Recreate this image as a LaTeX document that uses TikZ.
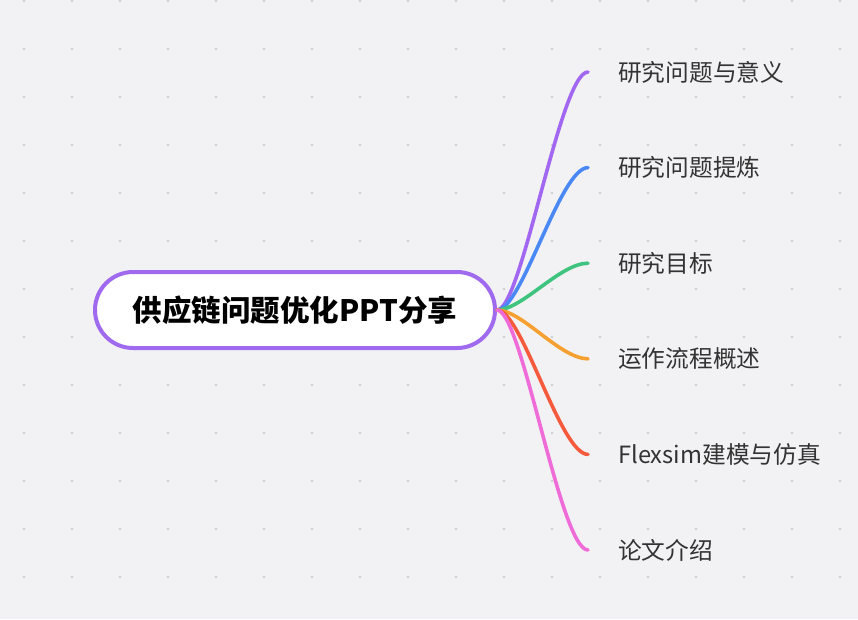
\documentclass[tikz,border=0pt]{standalone}
\usepackage{fontspec}
\newfontfamily\cjk{Noto Sans CJK SC}
\usetikzlibrary{calc}
\definecolor{bgc}{HTML}{F2F2F4}
\definecolor{dotc}{HTML}{CDCDD2}
\definecolor{rootc}{HTML}{A06AEE}
\definecolor{txtc}{HTML}{333333}
\definecolor{bPurple}{HTML}{A267F0}
\definecolor{bBlue}{HTML}{4A88F5}
\definecolor{bGreen}{HTML}{3FC47F}
\definecolor{bOrange}{HTML}{F5A030}
\definecolor{bRed}{HTML}{F55A3C}
\definecolor{bPink}{HTML}{EE6BD8}
\tikzset{
  rootnode/.style={draw=rootc,line width=4pt,fill=white,rounded corners=38pt,
    minimum width=400pt,minimum height=76pt,inner sep=0pt,
    font=\cjk\bfseries\fontsize{29.5}{34}\selectfont},
  topic/.style={anchor=west,inner xsep=30pt,inner ysep=0pt,text=txtc,
    font=\cjk\fontsize{23.7}{28}\selectfont},
  branch/.style={line width=3.6pt,line cap=round}
}
\begin{document}
\begin{tikzpicture}[x=1pt,y=-1pt]
  \fill[bgc] (0,0) rectangle (858,619);
  \useasboundingbox (0,0) rectangle (858,619);
  \foreach \gx in {24,72,...,858}
    \foreach \gy in {1,49,...,619}
      \fill[dotc] (\gx,\gy) circle (1.3pt);
  \node[rootnode] (root) at (295,310) {供应链问题优化PPT分享};
  \foreach \txt/\col [count=\i] in {研究问题与意义/bPurple,研究问题提炼/bBlue,
      研究目标/bGreen,运作流程概述/bOrange,Flexsim建模与仿真/bRed,论文介绍/bPink}{
    \node[topic] (t\i) at (588,{72+95.6*(\i-1)}) {\txt};
    \draw[branch,\col] (root.east) .. controls ($(root.east)+(25,0)$)
      and ($(t\i.west)+(-28,0)$) .. (t\i.west);
  }
\end{tikzpicture}
\end{document}
